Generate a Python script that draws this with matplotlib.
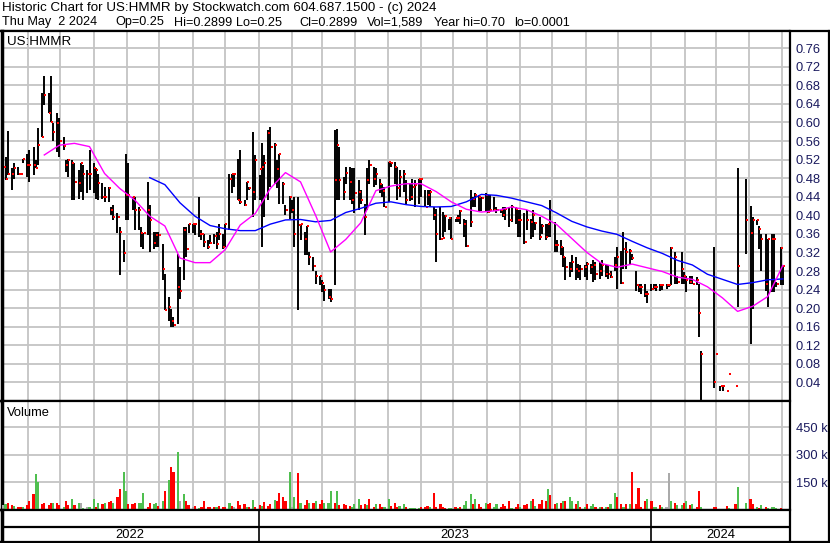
import numpy as np
import pandas as pd
import matplotlib
matplotlib.use('Agg')
import matplotlib.pyplot as plt
import matplotlib.dates as mdates
import matplotlib.transforms as mtransforms
from matplotlib.lines import Line2D

nan = float('nan')

header1 = "Historic Chart for US:HMMR by Stockwatch.com 604.687.1500 - (c) 2024"
header2 = ["Thu May  2 2024", "Op=0.25", "Hi=0.2899", "Lo=0.25", "Cl=0.2899",
           "Vol=1,589", "Year hi=0.70", "lo=0.0001"]
symbol = "US:HMMR"
last_day = '2024-05-02'

# one bar every second business day, ending on the last trading day
high = [.519, .526, .582, .501, .512, .505, .490, .521, .533, .541,
        .548, .519, .587, .663, .700, .663, .700, .598, .620, .609,
        .569, .519, .521, .519, .512, .497, .512, .508, .497, .541,
        .512, .501, .490, .469, .461, .461, .418, .422, .404, .375,
        .346, .531, .512, .440, .440, .418, .375, .361, .472, .422,
        .364, .364, .364, .339, .274, .224, .199, .181, .317, .289,
        .375, .375, .382, .382, .382, .440, .368, .360, .346, .357,
        .360, .364, .382, .360, .382, .490, .490, .490, .522, .540,
        .432, .472, .461, .580, .530, .486, .555, .530, .584, .590,
        .555, .519, .533, .472, .422, .441, .432, .440, .440, .382,
        .364, .378, .321, .310, .281, .270, .260, .249, .242, .242,
        .584, .585, .548, .483, .504, .504, .501, .501, .476, .454,
        .425, .501, .519, .504, .501, .479, .468, .460, .515, .515,
        .515, .504, .497, .497, .476, .470, .479, .476, .479, .479,
        .454, .454, .454, .418, .414, .418, .407, .400, .393, .396,
        .393, .400, .411, .393, .389, .454, .440, .447, .443, .440,
        .447, .443, .443, .440, .418, .414, .418, .418, .418, .422,
        .418, .411, .411, .404, .411, .393, .411, .386, .396, .382,
        .382, .382, .432, .386, .346, .346, .332, .310, .299, .314,
        .310, .296, .292, .292, .299, .296, .303, .299, .299, .303,
        .296, .292, .280, .310, .332, .324, .364, .342, .328, .317,
        .281, .252, .252, .252, .238, .252, .252, .252, .252, .252,
        .252, .252, .332, .321, .270, .321, .278, .270, .270, .270,
        .267, .252, .108, nan, nan, nan, .332, .101, .033, .033,
        .022, .059, nan, .033, .501, nan, nan, .479, .421, .396,
        .389, .378, .360, .360, .350, .360, .360, .256, .332, .2899]

low = [.440, .476, .487, .454, .479, .487, .487, .512, .483, .472,
       .487, .501, .508, .569, .638, .620, .602, .559, .537, .526,
       .541, .494, .483, .433, .433, .436, .451, .433, .447, .454,
       .447, .436, .433, .436, .429, .429, .400, .389, .361, .271,
       .299, .389, .389, .411, .368, .368, .332, .328, .357, .321,
       .328, .332, .332, .260, .195, .173, .159, .159, .166, .220,
       .260, .310, .361, .361, .357, .353, .346, .332, .328, .339,
       .339, .328, .346, .328, .332, .368, .447, .460, .432, .425,
       .419, .432, .454, .396, .432, .432, .332, .396, .432, .461,
       .468, .458, .425, .425, .400, .393, .404, .332, .195, .346,
       .314, .314, .292, .281, .252, .249, .234, .216, .220, .213,
       .249, .432, .432, .432, .468, .432, .425, .404, .411, .425,
       .357, .411, .468, .461, .465, .447, .440, .418, .429, .504,
       .468, .432, .440, .450, .425, .430, .432, .418, .425, .440,
       .418, .422, .418, .389, .299, .346, .353, .364, .368, .350,
       .386, .386, .382, .353, .332, .375, .418, .418, .407, .410,
       .407, .404, .407, .410, .404, .404, .396, .389, .375, .386,
       .382, .353, .353, .339, .368, .350, .353, .368, .346, .360,
       .346, .353, .353, .321, .321, .314, .288, .260, .267, .278,
       .260, .265, .260, .267, .260, .274, .256, .260, .262, .270,
       .267, .263, .265, .281, .242, .252, .285, .285, .296, .303,
       .238, .234, .231, .224, .211, .238, .242, .238, .238, .240,
       .242, .245, .249, .252, .252, .252, .252, .234, .252, .252,
       .249, .137, .000, nan, nan, nan, .029, .101, .022, .022,
       .022, .059, nan, .033, .202, nan, nan, .317, .123, .198,
       .380, .328, .281, .238, .202, .234, .234, .245, .249, .25]

close = [.505, .479, .490, .490, .501, .490, .490, .521, .508, .508,
         .508, .501, .551, .569, .659, .620, .602, .580, .598, .559,
         .549, .508, .519, .512, .472, .469, .512, .490, .490, .490,
         .501, .497, .470, .440, .440, .459, .411, .397, .397, .364,
         .319, .443, .443, .440, .411, .411, .361, .361, .411, .389,
         .340, .357, .357, .285, .196, .202, .173, .163, .245, .238,
         .368, .328, .381, .381, .381, .360, .360, .342, .332, .340,
         .355, .339, .360, .332, .381, .478, .489, .489, .432, .429,
         .422, .471, .458, .450, .519, .499, .504, .512, .578, .548,
         .551, .499, .531, .468, .411, .440, .412, .360, .380, .381,
         .350, .378, .310, .291, .270, .269, .254, .239, .224, .220,
         .476, .551, .476, .450, .491, .472, .432, .447, .450, .432,
         .396, .476, .509, .479, .490, .468, .452, .418, .514, .513,
         .504, .458, .483, .490, .432, .440, .461, .465, .478, .478,
         .418, .443, .450, .400, .360, .350, .351, .398, .394, .350,
         .394, .394, .409, .381, .333, .386, .436, .443, .440, .438,
         .443, .407, .411, .411, .411, .411, .400, .414, .389, .418,
         .414, .389, .389, .342, .389, .386, .400, .383, .353, .378,
         .353, .381, .412, .335, .335, .332, .310, .288, .285, .299,
         .285, .280, .285, .288, .296, .288, .292, .274, .280, .292,
         .274, .274, .268, .292, .310, .254, .328, .321, .324, .309,
         .249, .245, .245, .231, .230, .242, .245, .245, .249, .249,
         .249, .250, .330, .310, .257, .285, .270, .260, .257, .252,
         .260, .189, .101, nan, nan, nan, .040, .101, .033, .033,
         .022, .059, nan, .033, .290, nan, nan, .389, .362, .389,
         .389, .370, .348, .252, .348, .348, .348, .252, .330, .2899]

# volume in thousands; g = up, r = down, n = unchanged
volume_k = [25, 28, 33, 22, 17, 12, 12, 12, 22, 44,
            83, 193, 149, 31, 35, 22, 35, 38, 38, 22,
            12, 49, 22, 60, 22, 38, 35, 9, 12, 12,
            60, 12, 38, 31, 35, 42, 49, 38, 68, 110,
            204, 104, 31, 31, 35, 38, 38, 93, 12, 35,
            31, 38, 20, 49, 99, 159, 233, 205, 313, 48,
            85, 44, 22, 12, 17, 9, 12, 44, 12, 12,
            12, 12, 17, 12, 12, 35, 17, 12, 44, 22,
            31, 12, 12, 53, 12, 22, 17, 40, 17, 31,
            53, 49, 90, 68, 49, 205, 12, 68, 201, 38,
            26, 53, 38, 38, 49, 31, 53, 38, 38, 99,
            38, 99, 22, 31, 22, 17, 12, 31, 60, 22,
            31, 22, 57, 12, 28, 31, 12, 12, 60, 17,
            35, 12, 17, 28, 12, 6, 6, 6, 6, 12,
            12, 17, 12, 90, 12, 28, 12, 6, 6, 6,
            12, 6, 12, 22, 44, 85, 31, 55, 28, 12,
            35, 31, 38, 12, 28, 12, 28, 17, 44, 6,
            12, 31, 12, 22, 28, 44, 57, 17, 31, 53,
            44, 110, 82, 31, 35, 38, 49, 44, 68, 46,
            31, 49, 12, 12, 31, 17, 31, 12, 12, 12,
            12, 12, 28, 93, 68, 28, 12, 31, 31, 207,
            31, 118, 12, 44, 57, 44, 12, 12, 26, 12,
            12, 198, 44, 38, 22, 22, 38, 49, 22, 28,
            12, 99, 12, 0, 0, 0, 12, 12, 3, 3,
            17, 6, 0, 28, 121, 0, 0, 35, 55, 28,
            12, 6, 22, 12, 6, 12, 12, 6, 6, 1.6]

vol_dir = ("ngrrgrrgrr" "rggrrrrgrr" "grrgrgngng" "grgrgrrgrr" "ggrrrgggrr"
           "ggrgrgrrgn" "grrnrgrrrr" "rgrrrgrnrr" "rgrgrrgrrr" "grrrrgngrg"
           "rrgrgrrggg" "rgrrrrgggr" "rgrrgrrggr" "rrggrggggr" "rrgrrrrrgg"
           "rgrgggrgrr" "grrggrrrrg" "rrgrrgrgrr" "rgrrgrgrgg" "rgrgrggrgr"
           "grggrrgrgr" "rrrrgrggrg" "nngrggrgrg" "rrgnnnrrrr" "rgnrgnngrr"
           "grgrggggrg")

# moving averages, read every fifth bar (ending on the last bar)
ma_short = [nan, nan, .530, .551, .555, .548, .490, .458, .433, .398,
            .377, .308, .298, .298, .326, .379, .404, .458, .492, .472,
            .400, .321, .348, .384, .453, .463, .468, .468, .451, .429,
            .413, .407, .410, .418, .412, .398, .380, .350, .320, .296,
            .288, .295, .287, .279, .267, .262, .246, .222, .193, .204,
            .225, .292]
ma_long = [nan, nan, nan, nan, nan, nan, nan, nan, nan, .481,
           .466, .427, .398, .378, .371, .367, .367, .381, .390, .391,
           .386, .389, .406, .415, .426, .429, .423, .419, .418, .419,
           .429, .445, .443, .437, .429, .421, .405, .387, .375, .366,
           .359, .344, .330, .318, .303, .293, .273, .262, .251, .255,
           .261, .263]

price_ticks = [0.04, 0.08, 0.12, 0.16, 0.20, 0.24, 0.28, 0.32, 0.36, 0.40,
               0.44, 0.48, 0.52, 0.56, 0.60, 0.64, 0.68, 0.72, 0.76]
vol_ticks = [150, 300, 450]
years = ['2022', '2023', '2024']

assert len(high) == len(low) == len(close) == len(volume_k) == len(vol_dir)

plt.rcParams['font.family'] = ['Liberation Sans', 'DejaVu Sans']

dates = pd.bdate_range(end=last_day, periods=len(close), freq='2B')
ma_dates = dates[4::5]
months = pd.date_range('2022-06-01', '2024-05-01', freq='MS')
xlim = (pd.Timestamp('2022-05-07 06:00'), pd.Timestamp('2024-05-08 05:00'))

W, H = 830, 543
fig = plt.figure(figsize=(W / 100, H / 100), dpi=100)
fig.patch.set_facecolor('white')


def box(x0, y0, x1, y1):
    return [x0 / W, 1 - y1 / H, (x1 - x0) / W, (y1 - y0) / H]


grid_col = '#c4c4c4'
label_col = '#1a1a5e'

ax = fig.add_axes(box(1.5, 31, 789.5, 401))
axv = fig.add_axes(box(1.5, 401, 789.5, 509.5))
axd = fig.add_axes(box(1.5, 509.5, 789.5, 541.5))

for a in (ax, axv, axd):
    a.set_xlim(*xlim)
    for s in a.spines.values():
        s.set_linewidth(1.6)
        s.set_color('black')
    a.set_zorder(2)

# price panel
ax.set_ylim(0, 0.797)
ax.set_xticks(months)
ax.set_yticks(price_ticks)
ax.set_yticklabels(['%.2f' % t for t in price_ticks])
ax.yaxis.tick_right()
ax.tick_params(axis='x', length=0, labelbottom=False)
ax.tick_params(axis='y', length=0, pad=4.5, labelsize=9.3, labelcolor=label_col)
ax.grid(True, color=grid_col, lw=1.3)
ax.set_axisbelow(True)
ax.spines['left'].set_linewidth(2.5)

ax.vlines(dates, low, high, color='black', lw=1.4, zorder=3)
shift = ax.transData + mtransforms.ScaledTranslation(1.2 / 100, 0, fig.dpi_scale_trans)
ax.plot(dates, close, 's', color='red', ms=1.9, mew=0, transform=shift, zorder=4)
ax.plot(ma_dates, ma_long, color='#0000ff', lw=1.0, zorder=5)
ax.plot(ma_dates, ma_short, color='#ff00ff', lw=1.0, zorder=5)
ax.text(6 / 788, 1 - 11 / 370, symbol, transform=ax.transAxes, fontsize=9.6,
        va='center', ha='left')

# volume panel
cmap = {'g': '#4fbf4f', 'r': '#ff0000', 'n': '#aaaaaa'}
axv.bar(dates, volume_k, width=2.0, color=[cmap[c] for c in vol_dir],
        align='center', zorder=3)
axv.set_ylim(0, 594)
axv.set_xticks(months)
axv.set_yticks(vol_ticks)
axv.set_yticklabels(['%d k' % v for v in vol_ticks])
axv.yaxis.tick_right()
axv.tick_params(axis='x', length=0, labelbottom=False)
axv.tick_params(axis='y', length=0, pad=4.5, labelsize=9.3, labelcolor=label_col)
axv.grid(True, color=grid_col, lw=1.3)
axv.set_axisbelow(True)
axv.spines['left'].set_linewidth(2.5)
axv.text(5 / 788, 1 - 12 / 108, 'Volume', transform=axv.transAxes, fontsize=9.3,
         va='center', ha='left')

# year band
axd.set_ylim(0, 1)
axd.set_xticks([])
axd.set_yticks([])
axd.spines['left'].set_linewidth(2.5)
axd.axhline(14.5 / 32, color='black', lw=1.6)
bounds = [mdates.date2num(xlim[0]), mdates.date2num(pd.Timestamp('2023-01-01')),
          mdates.date2num(pd.Timestamp('2024-01-01')), mdates.date2num(xlim[1])]
for b in bounds[1:-1]:
    axd.axvline(b, color='black', lw=1.2)
for i, y in enumerate(years):
    axd.text((bounds[i] + bounds[i + 1]) / 2, 6.5 / 32, y, ha='center',
             va='center', fontsize=9.3)

# header and outer frame
fig.text(2 / W, 1 - 8 / H, header1, fontsize=9.6, va='center', ha='left')
header_x = [2, 115, 174, 236, 299, 367, 434, 514]
for txt, hx in zip(header2, header_x):
    fig.text(hx / W, 1 - 22.5 / H, txt, fontsize=9.1, va='center', ha='left')
fig.add_artist(Line2D([0, 1], [1 - 31 / H, 1 - 31 / H], color='black', lw=1.6,
                      transform=fig.transFigure))
fig.add_artist(Line2D([1 - 1 / W, 1 - 1 / W], [0, 1 - 31 / H], color='black',
                      lw=1.6, transform=fig.transFigure))
fig.add_artist(Line2D([0, 1], [1.2 / H, 1.2 / H], color='black', lw=1.6,
                      transform=fig.transFigure))

fig.savefig('out.png', dpi=100)
